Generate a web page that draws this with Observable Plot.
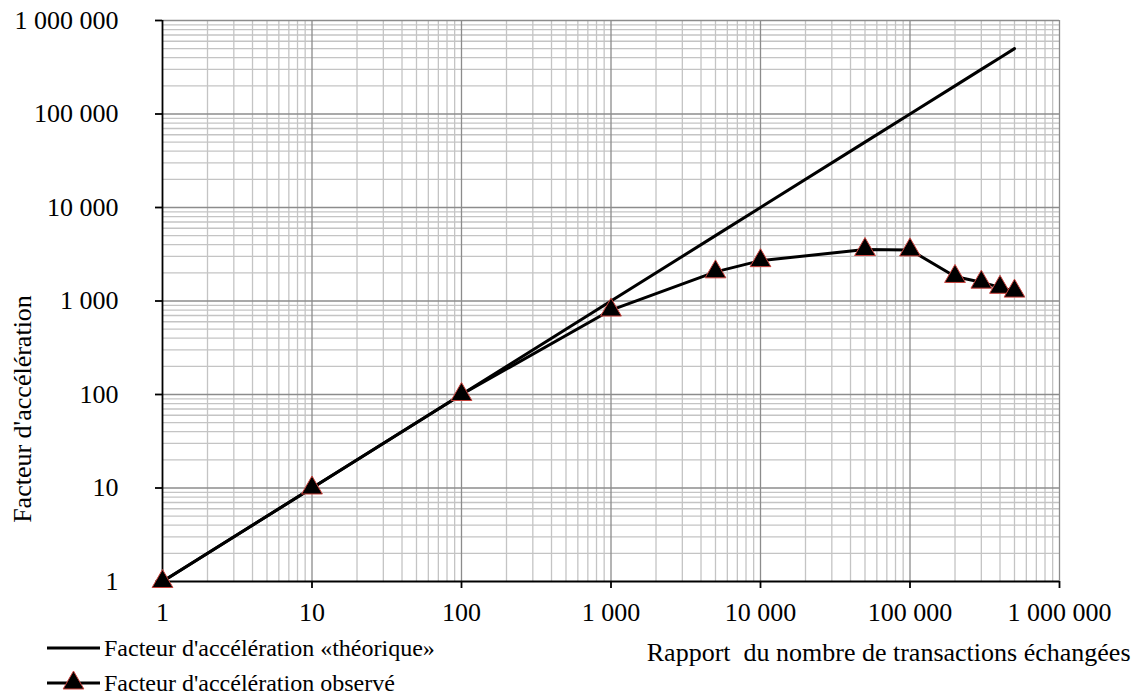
<!DOCTYPE html>
<html>
<head>
<meta charset="utf-8">
<script src="https://cdn.jsdelivr.net/npm/d3@7"></script>
<script src="https://cdn.jsdelivr.net/npm/@observablehq/plot@0.6"></script>
<style>
  body { margin: 0; background: #fff; font-family: "Liberation Serif", "Times New Roman", serif; }
  #wrap { position: relative; width: 1140px; height: 698px; overflow: hidden; }
  svg text { white-space: pre; }
  .legrow { position: absolute; left: 47px; height: 28px; display: flex; align-items: center; font-size: 24px; line-height: 28px; color: #000; white-space: pre; }
  .legrow svg { margin-right: 4px; flex: none; }
</style>
</head>
<body>
<div id="wrap"></div>
<script>
// ---- data ----
const ratio       = [1, 10, 100, 1000, 5000, 10000, 50000, 100000, 200000, 300000, 400000, 500000];
const theoretical = [1, 10, 100, 1000, 5000, 10000, 50000, 100000, 200000, 300000, 400000, 500000];
const observed    = [1, 10, 100, 800, 2050, 2700, 3550, 3520, 1830, 1590, 1400, 1275];
const majorTicks  = [1, 10, 100, 1000, 10000, 100000, 1000000];
const xTitle = "Rapport  du nombre de transactions échangées";
const yTitle = "Facteur d'accélération";
const legendLabels = ["Facteur d'accélération «théorique»", "Facteur d'accélération observé"];

// ---- derived tables ----
const theoRows = ratio.map((x, i) => ({x, y: theoretical[i]}));
const obsRows  = ratio.map((x, i) => ({x, y: observed[i]}));
const minorTicks = [];
for (let k = 0; k < 6; k++) for (let m = 2; m <= 9; m++) minorTicks.push(m * Math.pow(10, k));
const fmt = d => d3.format(",")(d).replace(/,/g, " ");

const markerStroke = "#c9423c";

const chart = Plot.plot({
  width: 1140,
  height: 698,
  marginLeft: 162,
  marginRight: 81,
  marginTop: 20,
  marginBottom: 117,
  x: {type: "log", domain: [1, 1e6]},
  y: {type: "log", domain: [1, 1e6]},
  style: {fontFamily: "'Liberation Serif', 'Times New Roman', serif", fontSize: "26px", background: "white", color: "black", overflow: "visible"},
  marks: [
    Plot.ruleX(minorTicks, {stroke: "#c4c4c4", strokeWidth: 1.3}),
    Plot.ruleY(minorTicks, {stroke: "#c4c4c4", strokeWidth: 1.3}),
    Plot.ruleX(majorTicks.slice(1), {stroke: "#8c8c8c", strokeWidth: 1.3}),
    Plot.ruleY(majorTicks.slice(1), {stroke: "#8c8c8c", strokeWidth: 1.3}),
    Plot.ruleX([1], {stroke: "black", strokeWidth: 1.8}),
    Plot.ruleY([1], {stroke: "black", strokeWidth: 1.8}),
    Plot.axisX(majorTicks, {tickFormat: fmt, tickSize: 7, tickPadding: 14, stroke: "black", strokeWidth: 1.8, label: null, fontSize: 26}),
    Plot.axisY(majorTicks, {tickFormat: fmt, tickSize: 7, tickPadding: 37, stroke: "black", strokeWidth: 1.8, label: null, fontSize: 26}),
    Plot.line(theoRows, {x: "x", y: "y", stroke: "black", strokeWidth: 3}),
    Plot.line(obsRows, {x: "x", y: "y", stroke: "black", strokeWidth: 3}),
    Plot.dot(obsRows, {x: "x", y: "y", symbol: "triangle", r: 7.7, fill: "black", stroke: markerStroke, strokeWidth: 1}),
    Plot.text([xTitle], {frameAnchor: "bottom-right", textAnchor: "end", lineAnchor: "middle", dx: 71, dy: 71, fontSize: 26}),
    Plot.text([yTitle], {frameAnchor: "left", rotate: -90, textAnchor: "middle", lineAnchor: "middle", dx: -140, dy: 108, fontSize: 26})
  ]
});

const wrap = document.getElementById("wrap");
wrap.appendChild(chart);

// ---- legend (below the plot area, bottom-left) ----
function legendRow(label, withMarker, centerY) {
  const row = document.createElement("div");
  row.className = "legrow";
  row.style.top = (centerY - 14) + "px";
  const sw = d3.create("svg").attr("width", 53).attr("height", 28);
  sw.append("line").attr("x1", 0).attr("x2", 53).attr("y1", 14).attr("y2", 14).attr("stroke", "black").attr("stroke-width", 3);
  if (withMarker) {
    sw.append("path").attr("d", d3.symbol(d3.symbolTriangle, Math.PI * 7.7 * 7.7)()).attr("transform", "translate(26.5,14)")
      .attr("fill", "black").attr("stroke", markerStroke).attr("stroke-width", 1);
  }
  row.appendChild(sw.node());
  const t = document.createElement("span");
  t.textContent = label;
  row.appendChild(t);
  wrap.appendChild(row);
}
legendRow(legendLabels[0], false, 648);
legendRow(legendLabels[1], true, 683);
</script>
</body>
</html>
